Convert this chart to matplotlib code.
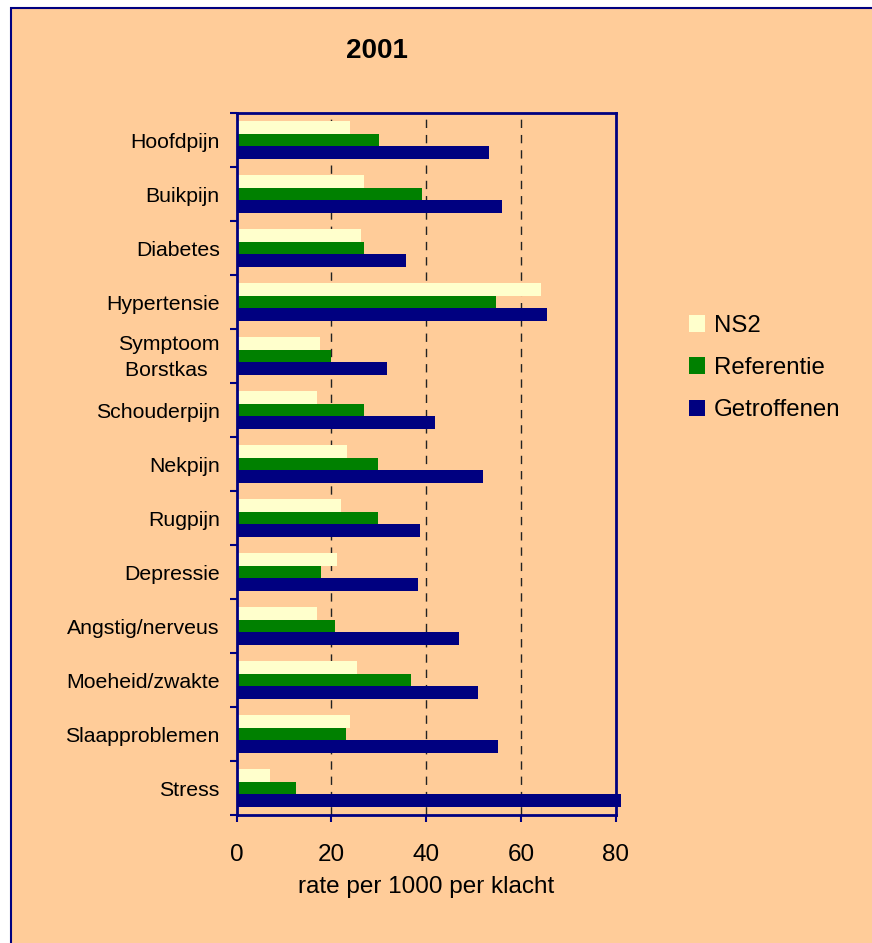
import matplotlib
matplotlib.use('Agg')
import matplotlib.pyplot as plt
import matplotlib.transforms as mtransforms
import numpy as np
from matplotlib.patches import Rectangle

plt.rcParams['font.family'] = ['Liberation Sans', 'DejaVu Sans']

categories = ['Hoofdpijn', 'Buikpijn', 'Diabetes', 'Hypertensie', 'Symptoom\nBorstkas ',
              'Schouderpijn', 'Nekpijn', 'Rugpijn', 'Depressie', 'Angstig/nerveus',
              'Moeheid/zwakte', 'Slaapproblemen', 'Stress']
ns2 = [24.0, 26.9, 26.3, 64.2, 17.6, 17.0, 23.3, 22.1, 21.2, 17.0, 25.4, 24.0, 7.1]
referentie = [30.1, 39.2, 26.9, 54.8, 20.0, 26.9, 29.9, 29.9, 17.9, 20.8, 36.8, 23.1, 12.6]
getroffenen = [53.3, 56.0, 35.8, 65.5, 31.8, 41.9, 52.0, 38.7, 38.3, 47.0, 50.9, 55.2, 81.1]

peach = '#FFCC99'
navy = '#000080'

fig = plt.figure(figsize=(8.72, 9.43), dpi=100, facecolor='white')
# peach chart area with navy border (right/bottom run off the image)
fig.patches.append(Rectangle((11 / 872, -0.01), 1.0, 1 - 8 / 943 + 0.01,
                             transform=fig.transFigure, facecolor=peach,
                             edgecolor=navy, linewidth=1.5, zorder=-5))

ax = fig.add_axes([236.5 / 872, 1 - 815 / 943, (615.7 - 236.5) / 872, (815 - 113) / 943])
ax.set_facecolor(peach)

y = np.arange(len(categories))
h = 0.235
ax.barh(y - h, ns2, height=h, color='#FFFFCC', label='NS2', zorder=3, clip_on=False)
ax.barh(y, referentie, height=h, color='#008000', label='Referentie', zorder=3, clip_on=False)
ax.barh(y + h, getroffenen, height=h, color=navy, label='Getroffenen', zorder=3, clip_on=False)

ax.set_xlim(0, 80)
ax.set_ylim(len(categories) - 0.5, -0.5)
ax.set_xticks([0, 20, 40, 60, 80])
ax.tick_params(axis='x', direction='out', length=5, width=1.5, color=navy,
               labelsize=17.5, pad=16)
ax.set_yticks(y)
ax.set_yticklabels(categories, fontsize=15.3, multialignment='center', linespacing=1.5)
ax.set_yticks(np.arange(len(categories) + 1) - 0.5, minor=True)
ax.tick_params(axis='y', which='major', length=0, pad=12)
ax.tick_params(axis='y', which='minor', direction='out', length=5, width=1.5, color=navy)

# two-line label sits a bit higher in the original
lbl = ax.get_yticklabels()[4]
lbl.set_transform(lbl.get_transform() +
                  mtransforms.ScaledTranslation(0, 4 / 100, fig.dpi_scale_trans))

for v in [20, 40, 60]:
    ax.axvline(v, color='#222222', linestyle=(0, (6, 5)), linewidth=1, zorder=1)

for s in ax.spines.values():
    s.set_color(navy)
    s.set_linewidth(2)
    s.set_zorder(4)

ax.set_xlabel('rate per 1000 per klacht', fontsize=17.5, labelpad=7)
fig.text(377 / 872, 1 - 51 / 943, '2001', fontsize=20, fontweight='bold',
         ha='center', va='center')

ax.legend(loc='center left', bbox_to_anchor=(667 / 872, 1 - 368 / 943),
          bbox_transform=fig.transFigure, frameon=False, fontsize=17.3,
          handlelength=0.7, handleheight=0.7, handletextpad=0.35,
          labelspacing=0.85)

fig.savefig('out.png', dpi=100, facecolor='white')
